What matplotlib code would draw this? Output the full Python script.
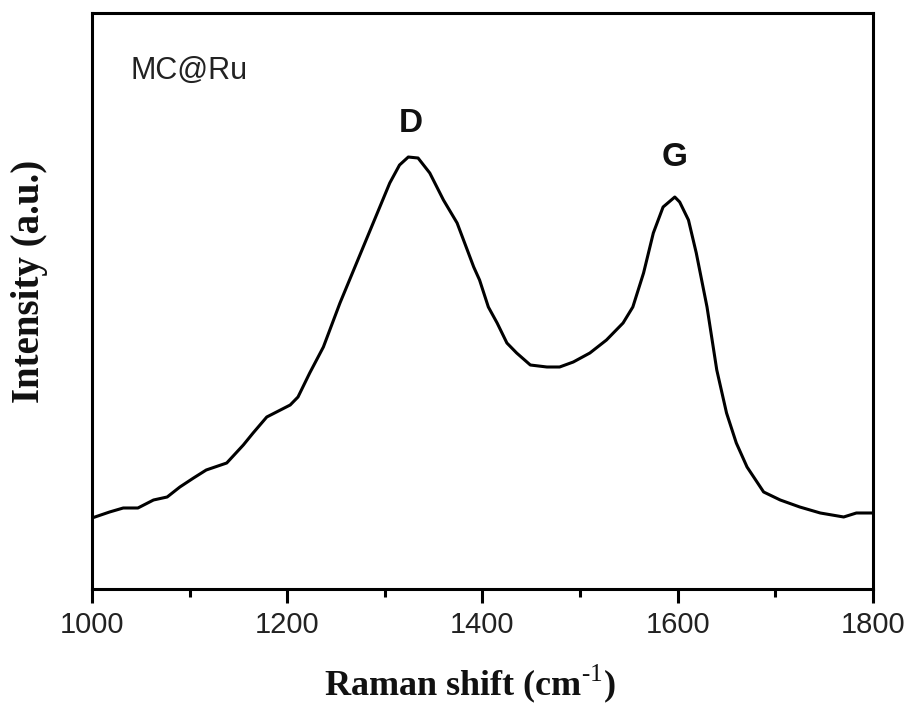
import matplotlib
matplotlib.use("Agg")
import matplotlib.pyplot as plt
from matplotlib.ticker import MultipleLocator, NullLocator

plt.rcParams["mathtext.fontset"] = "custom"
plt.rcParams["mathtext.bf"] = "Liberation Serif:bold"
plt.rcParams["mathtext.rm"] = "Liberation Serif"

# Raman spectrum (wavenumber in cm^-1, intensity in arbitrary units)
raman_shift = [1000, 1018, 1032, 1047, 1063, 1077, 1090, 1104, 1117, 1138, 1155, 1165,
               1179, 1203, 1211, 1223, 1237, 1254, 1271, 1288, 1305, 1315, 1324, 1334,
               1346, 1360, 1374, 1391, 1397, 1406, 1415, 1425, 1435, 1449, 1466, 1479,
               1493, 1510, 1527, 1544, 1554, 1565, 1575, 1585, 1597, 1602, 1611, 1619,
               1630, 1640, 1650, 1660, 1671, 1688, 1705, 1725, 1746, 1770, 1783, 1800]
intensity = [71, 77, 81, 81, 89, 92, 102, 111, 119, 126, 144, 156,
             172, 184, 192, 216, 242, 286, 326, 366, 406, 424, 432, 431,
             416, 389, 366, 322, 309, 282, 266, 246, 236, 224, 222, 222,
             227, 236, 249, 266, 282, 316, 356, 382, 392, 387, 369, 336,
             282, 219, 176, 146, 122, 97, 89, 82, 76, 72, 76, 76]

peak_labels = ["D", "G"]
peak_pos = [1327, 1597]
peak_label_y = [466, 432]
sample_name = "MC@Ru"
x_ticks = [1000, 1200, 1400, 1600, 1800]

fig = plt.figure(figsize=(9.12, 7.08), dpi=100)
ax = fig.add_axes([0.1009, 0.1681, 0.8563, 0.8135])

ax.plot(raman_shift, intensity, color="black", linewidth=2.2)

ax.set_xlim(1000, 1800)
ax.set_ylim(0, 576)
ax.set_xticks(x_ticks)
ax.xaxis.set_minor_locator(MultipleLocator(100))
ax.yaxis.set_major_locator(NullLocator())
ax.tick_params(axis="x", which="major", direction="out", length=10, width=2.2,
               labelsize=21, labelcolor="#222222", pad=6)
ax.tick_params(axis="x", which="minor", direction="out", length=6, width=2.2)
for lbl in ax.get_xticklabels():
    lbl.set_family("Liberation Sans")
for sp in ax.spines.values():
    sp.set_linewidth(2.2)

fig.text(470 / 912, 1 - 695 / 708, r"Raman shift (cm$^{\text{-1}}$)", fontsize=26,
         fontweight="bold", family="Liberation Serif", ha="center", va="baseline",
         color="#111111")
fig.text(30 / 912, 1 - 281.5 / 708, "Intensity (a.u.)", fontsize=28, fontweight="bold",
         family="Liberation Serif", rotation=90, ha="center", va="center",
         color="#111111")

ax.text(1039, 510, sample_name, fontsize=22, family="Liberation Sans",
        color="#222222", va="baseline", ha="left")
for lab, xp, yp in zip(peak_labels, peak_pos, peak_label_y):
    ax.text(xp, yp, lab, fontsize=24, fontweight="bold", family="Liberation Sans",
            color="#111111", ha="center", va="center")

fig.savefig("out.png", dpi=100)
